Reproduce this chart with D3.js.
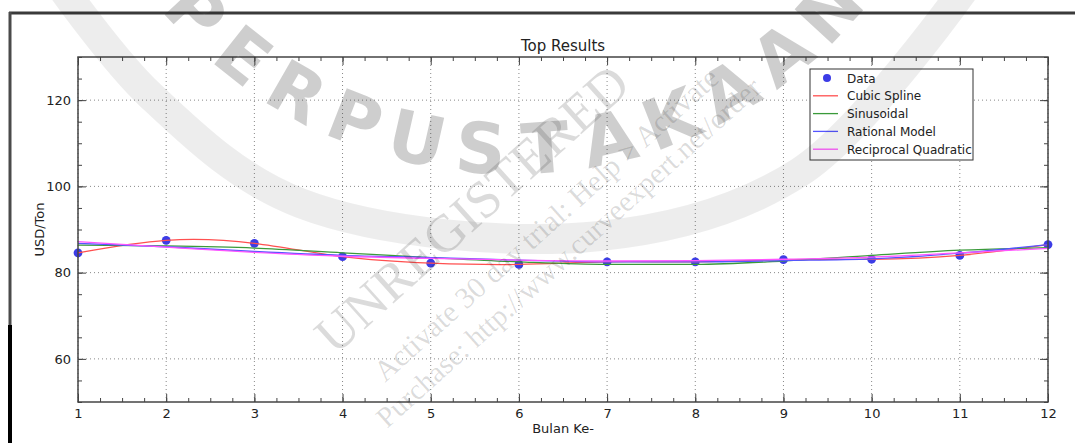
<!DOCTYPE html>
<html>
<head>
<meta charset="utf-8">
<script src="https://cdn.jsdelivr.net/npm/d3@7"></script>
<style>
  body { margin: 0; background: #fff; }
  svg text { font-family: "DejaVu Sans", sans-serif; fill: #222; }
</style>
</head>
<body>
<div id="chart"></div>
<script>
// data
var months = [1, 2, 3, 4, 5, 6, 7, 8, 9, 10, 11, 12];
var dataVals = [84.6, 87.5, 86.8, 83.7, 82.2, 81.9, 82.5, 82.5, 83.0, 83.1, 84.0, 86.5];
var sinusoidal = [86.4, 86.2, 85.7, 84.6, 83.5, 82.5, 81.9, 81.9, 82.7, 84.0, 85.2, 85.8];
var rational = [86.8, 86.0, 84.9, 84.0, 83.5, 82.9, 82.5, 82.5, 82.8, 83.2, 84.5, 86.5];
var recipQuad = [87.2, 85.9, 84.7, 83.8, 83.3, 82.9, 82.7, 82.8, 83.1, 83.6, 84.6, 85.6];
var yMajor = [60, 80, 100, 120];
var seriesNames = ["Cubic Spline", "Sinusoidal", "Rational Model", "Reciprocal Quadratic"];
var seriesColors = ["#ff5050", "#3a9a3a", "#5555ff", "#ff55ff"];

var W = 1075, H = 443;
var margin = {top: 57, right: 27, bottom: 41, left: 78},
    width = W - margin.left - margin.right,
    height = H - margin.top - margin.bottom;

var root = d3.select("#chart").append("svg")
    .attr("width", W)
    .attr("height", H);

// screenshot frame
root.append("line").attr("x1", 9).attr("x2", W).attr("y1", 13).attr("y2", 13)
  .attr("stroke", "#3a3a3a").attr("stroke-width", 3);
root.append("line").attr("x1", 10).attr("x2", 10).attr("y1", 12).attr("y2", 325)
  .attr("stroke", "#4a4a4a").attr("stroke-width", 3);
root.append("line").attr("x1", 10).attr("x2", 10).attr("y1", 325).attr("y2", H)
  .attr("stroke", "#000").attr("stroke-width", 4);

var svg = root.append("g")
    .attr("transform", "translate(" + margin.left + "," + margin.top + ")");

var x = d3.scaleLinear().domain([1, 12]).range([0, width]);
var y = d3.scaleLinear().domain([50, 130]).range([height, 0]);

// grid
svg.append("g").selectAll("line").data(months).enter().append("line")
  .attr("x1", d => x(d)).attr("x2", d => x(d)).attr("y1", 0).attr("y2", height)
  .attr("stroke", "#888").attr("stroke-dasharray", "1,3");
svg.append("g").selectAll("line").data(yMajor).enter().append("line")
  .attr("y1", d => y(d)).attr("y2", d => y(d)).attr("x1", 0).attr("x2", width)
  .attr("stroke", "#888").attr("stroke-dasharray", "1,3");

var xMinor = d3.range(1, 12.01, 0.25);
var yMinor = d3.range(50, 130.01, 5);

function styleAxis(g) {
  g.select(".domain").remove();
  g.selectAll(".tick line").attr("stroke", "#444");
  g.selectAll(".tick text").style("font-size", "13px").attr("fill", "#222");
}

svg.append("g").attr("transform", "translate(0," + height + ")")
  .call(d3.axisBottom(x).tickValues(xMinor).tickSize(-4).tickFormat("")).call(styleAxis);
svg.append("g").attr("transform", "translate(0," + height + ")")
  .call(d3.axisBottom(x).tickValues(months).tickSize(-8).tickPadding(7).tickFormat(d3.format("d"))).call(styleAxis);
svg.append("g")
  .call(d3.axisTop(x).tickValues(xMinor).tickSize(-4).tickFormat("")).call(styleAxis);
svg.append("g")
  .call(d3.axisTop(x).tickValues(months).tickSize(-8).tickFormat("")).call(styleAxis);

svg.append("g")
  .call(d3.axisLeft(y).tickValues(yMinor).tickSize(-4).tickFormat("")).call(styleAxis);
svg.append("g")
  .call(d3.axisLeft(y).tickValues(yMajor).tickSize(-8).tickPadding(7)).call(styleAxis);
svg.append("g").attr("transform", "translate(" + width + ",0)")
  .call(d3.axisRight(y).tickValues(yMinor).tickSize(-4).tickFormat("")).call(styleAxis);
svg.append("g").attr("transform", "translate(" + width + ",0)")
  .call(d3.axisRight(y).tickValues(yMajor).tickSize(-8).tickFormat("")).call(styleAxis);

// data points
svg.append("g").selectAll("circle")
  .data(months.map((m, i) => ({m: m, v: dataVals[i]})))
  .enter().append("circle")
    .attr("cx", d => x(d.m))
    .attr("cy", d => y(d.v))
    .attr("r", 4.4)
    .attr("fill", "#3c3ce6");

// curves
var line = d3.line()
  .x(d => x(d.m)).y(d => y(d.v));
var allSeries = [dataVals, sinusoidal, rational, recipQuad];
allSeries.forEach(function(vals, i) {
  svg.append("path")
    .datum(months.map((m, j) => ({m: m, v: vals[j]})))
    .attr("fill", "none")
    .attr("stroke", seriesColors[i])
    .attr("stroke-width", 1.3)
    .attr("d", line.curve(i == 0 ? d3.curveNatural : d3.curveMonotoneX));
});

// spines
svg.append("rect").attr("width", width).attr("height", height)
  .attr("fill", "none").attr("stroke", "#444").attr("stroke-width", 1.5);

// title and labels
svg.append("text").attr("x", width / 2).attr("y", -6)
  .attr("text-anchor", "middle").style("font-size", "15px").text("Top Results");
svg.append("text").attr("x", width / 2).attr("y", height + 31)
  .attr("text-anchor", "middle").style("font-size", "13px").text("Bulan Ke-");
svg.append("text").attr("transform", "translate(-34," + (y(90)) + ") rotate(-90)")
  .attr("text-anchor", "middle").style("font-size", "13px").attr("fill", "#444").text("USD/Ton");

// legend
var lg = svg.append("g").attr("transform", "translate(" + (810 - margin.left) + "," + (69 - margin.top) + ")");
lg.append("rect").attr("width", 163).attr("height", 91)
  .attr("fill", "#fff").attr("stroke", "#333").attr("stroke-width", 1);
var legendNames = ["Data"].concat(seriesNames);
legendNames.forEach(function(name, i) {
  var ly = 9 + i * 17.8;
  if (i == 0) {
    lg.append("circle").attr("cx", 17).attr("cy", ly).attr("r", 4).attr("fill", "#3c3ce6");
  } else {
    lg.append("line").attr("x1", 3).attr("x2", 28).attr("y1", ly).attr("y2", ly)
      .attr("stroke", seriesColors[i - 1]).attr("stroke-width", 1.3);
  }
  lg.append("text").attr("x", 37).attr("y", ly + 4.5)
    .style("font-size", "12px").text(name);
});

// watermark layer
var wm = root.append("g").attr("pointer-events", "none");
var bandPts = [[60, -15], [150, 95], [300, 203], [600, 236], [800, 172], [965, -12]];
wm.append("path")
  .attr("d", d3.line().curve(d3.curveCatmullRom)(bandPts))
  .attr("fill", "none").attr("stroke", "#000").attr("stroke-opacity", 0.07)
  .attr("stroke-width", 30);

var letters = "PERPUSTAKAAN".split("");
var cx0 = 512, cy0 = -283, rr = 433;
letters.forEach(function(ch, i) {
  var th = (137 - i * 8.57) * Math.PI / 180;
  var px = cx0 + rr * Math.cos(th), py = cy0 + rr * Math.sin(th);
  wm.append("text")
    .attr("transform", "translate(" + px + "," + py + ") rotate(" + (th * 180 / Math.PI - 90) + ")")
    .attr("text-anchor", "middle").attr("dominant-baseline", "central")
    .style("font-size", "70px").style("font-weight", "bold")
    .attr("fill", "#000").attr("fill-opacity", 0.22)
    .text(ch);
});

var wmText = [
  {t: "UNREGISTERED", x: 335, y: 356, s: 53},
  {t: "Activate 30 day trial: Help > Activate", x: 385, y: 383, s: 30},
  {t: "Purchase: http://www.curveexpert.net/order", x: 387, y: 429, s: 29}
];
wmText.forEach(function(d) {
  wm.append("text")
    .attr("transform", "translate(" + d.x + "," + d.y + ") rotate(-42)")
    .style("font-family", "'Liberation Serif', serif")
    .style("font-size", d.s + "px")
    .attr("fill", "#000").attr("fill-opacity", 0.16)
    .text(d.t);
});
</script>
</body>
</html>
